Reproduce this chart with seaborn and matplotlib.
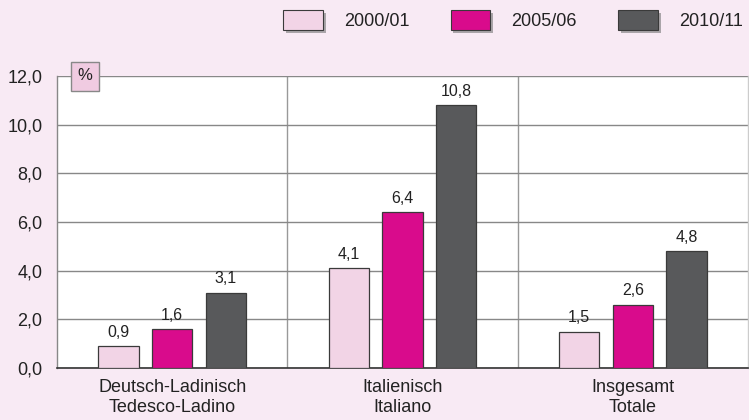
import matplotlib
matplotlib.use("Agg")
import matplotlib.pyplot as plt
import seaborn as sns
import pandas as pd
from matplotlib.patches import Patch
import matplotlib.patheffects as pe

categories = ["Deutsch-Ladinisch\nTedesco-Ladino", "Italienisch\nItaliano", "Insgesamt\nTotale"]
years = ["2000/01", "2005/06", "2010/11"]
v2000 = [0.9, 4.1, 1.5]
v2005 = [1.6, 6.4, 2.6]
v2010 = [3.1, 10.8, 4.8]
yticks = [0, 2, 4, 6, 8, 10, 12]

colors = ["#f2d4e6", "#d90b8c", "#58595b"]
bg = "#f8eaf4"

rows = []
for cat, a, b, c in zip(categories, v2000, v2005, v2010):
    for y, v in zip(years, (a, b, c)):
        rows.append({"cat": cat, "year": y, "val": v})
df = pd.DataFrame(rows)

sns.set_theme(style="white")
plt.rcParams['font.family'] = ['Liberation Sans', 'DejaVu Sans']

fig = plt.figure(figsize=(7.49, 4.2), dpi=100, facecolor=bg)
ax = fig.add_axes([57/749, 1-368/420, (748-57)/749, (368-76)/420])
ax.set_facecolor("white")

sns.barplot(data=df, x="cat", y="val", hue="year", palette=colors, saturation=1, width=0.7, gap=0.25,
            edgecolor="#3a3a3a", linewidth=0.9, ax=ax, legend=False, zorder=3)

for cont in ax.containers:
    labels = [f"{v:.1f}".replace(".", ",") for v in cont.datavalues]
    ax.bar_label(cont, labels=labels, padding=4.5, fontsize=11.5, color="#222222")

ax.set_xlim(-0.5, 2.5)
ax.set_ylim(0, 12)
ax.set_yticks(yticks)
ax.set_yticklabels([f"{t:.1f}".replace(".", ",") for t in yticks], fontsize=13, color="#222222")
ax.tick_params(axis="y", length=0, pad=10.5)
ax.tick_params(axis="x", length=0, pad=8, labelsize=13, labelcolor="#222222")
ax.set_xlabel("")
ax.set_ylabel("")
ax.grid(axis="y", color="#888888", linewidth=1, zorder=0)
for xv in [0.5, 1.5]:
    ax.axvline(xv, color="#999999", linewidth=1, zorder=0)
ax.spines["top"].set_visible(False)
ax.spines["left"].set_color("#888888")
ax.spines["left"].set_linewidth(1)
ax.spines["bottom"].set_color("#333333")
ax.spines["bottom"].set_linewidth(1.2)
ax.spines["right"].set_visible(True)
ax.spines["right"].set_color("#cccccc")
ax.spines["right"].set_linewidth(1)

# % box
ax.text((85-57)/691, 1.0, "%", transform=ax.transAxes, ha="center", va="center", fontsize=12,
        color="#222222",
        bbox=dict(boxstyle="square,pad=0.42", facecolor="#f0cbe1", edgecolor="#888888", linewidth=1),
        zorder=5)

handles = [Patch(facecolor=c, edgecolor="#3a3a3a", linewidth=0.8,
                 path_effects=[pe.SimplePatchShadow(offset=(2, -2), shadow_rgbFace="#777777", alpha=0.6), pe.Normal()])
           for c in colors]
leg = fig.legend(handles, years, loc="center left", bbox_to_anchor=(283/749, 1-20/420), ncol=3, frameon=False,
                 borderpad=0, borderaxespad=0,
                 fontsize=13, handlelength=2.2, handleheight=1.35, columnspacing=2.28, handletextpad=1.17)
for t in leg.get_texts():
    t.set_color("#222222")

fig.savefig("out.png", dpi=100, facecolor=bg)
